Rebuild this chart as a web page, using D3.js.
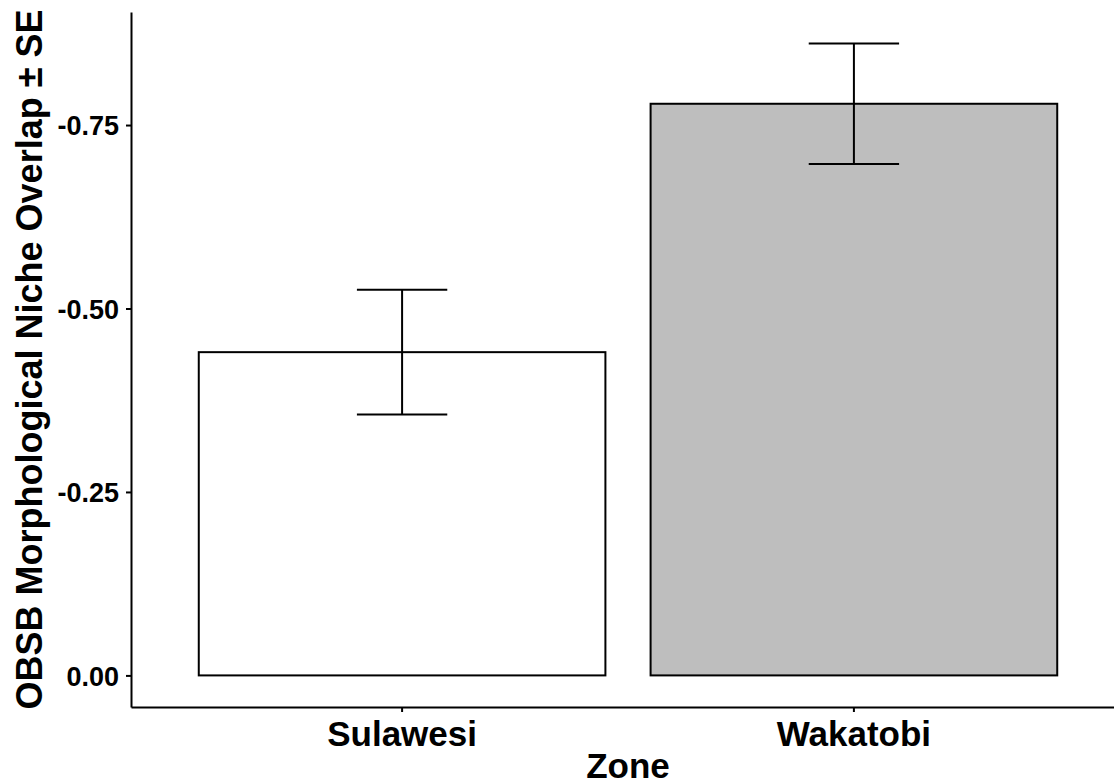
<!DOCTYPE html>
<html>
<head>
<meta charset="utf-8">
<script src="https://cdnjs.cloudflare.com/ajax/libs/d3/7.8.5/d3.min.js"></script>
<style>
  html, body { margin: 0; padding: 0; background: #fff; overflow: hidden; }
  svg { display: block; font-family: "Liberation Sans", Arial, sans-serif; }
  .axis path, .axis line { stroke: #000; stroke-width: 2px; }
  .axis text { fill: #000; font-weight: bold; }
</style>
</head>
<body>
<svg id="chart"></svg>
<script>
// datos
var zones = ['Sulawesi', 'Wakatobi'];
var means = [-0.4405, -0.779];
var errs = [0.085, 0.082];
var fills = ['#ffffff', '#bebebe'];
var yTicks = [0, -0.25, -0.5, -0.75];
var yTickLabels = ['0.00', '-0.25', '-0.50', '-0.75'];

var W = 1114, H = 783;
// panel como en ggplot (se sale un poco por la derecha)
const margin = { top: 12, right: -11, bottom: 76, left: 131 };
const width = W - margin.left - margin.right;
const height = H - margin.top - margin.bottom;

const svg = d3.select('#chart').attr('width', W).attr('height', H);
const g = svg.append('g').attr('transform', 'translate(' + margin.left + ',' + margin.top + ')');

const datos = zones.map(function(z, i) {
    return { zona: z, media: means[i], se: errs[i], fill: fills[i] };
});

const x = d3.scaleBand()
    .domain(zones)
    .range([0, width])
    .paddingInner(0.1)
    .paddingOuter(0.15);

// extension del 5% como ggplot
const lo = d3.min(datos, d => d.media - d.se);
const hi = 0;
const pad = (hi - lo) * 0.05;
const y = d3.scaleLinear()
    .domain([hi + pad, lo - pad])
    .range([height, 0]);

// barras
g.selectAll('.bar')
    .data(datos)
    .enter()
    .append('rect')
    .attr('class', 'bar')
    .attr('x', d => x(d.zona))
    .attr('width', x.bandwidth())
    .attr('y', d => y(d.media))
    .attr('height', d => y(0) - y(d.media))
    .attr('fill', d => d.fill)
    .attr('stroke', '#000')
    .attr('stroke-width', 2);

// barras de error
const ew = x.step() * 0.2 / 2;
const eb = g.selectAll('.err').data(datos).enter().append('g').attr('class', 'err')
    .attr('stroke', '#000').attr('stroke-width', 2);
eb.append('line')
    .attr('x1', d => x(d.zona) + x.bandwidth() / 2)
    .attr('x2', d => x(d.zona) + x.bandwidth() / 2)
    .attr('y1', d => y(d.media - d.se))
    .attr('y2', d => y(d.media + d.se));
eb.append('line')
    .attr('x1', d => x(d.zona) + x.bandwidth() / 2 - ew)
    .attr('x2', d => x(d.zona) + x.bandwidth() / 2 + ew)
    .attr('y1', d => y(d.media - d.se))
    .attr('y2', d => y(d.media - d.se));
eb.append('line')
    .attr('x1', d => x(d.zona) + x.bandwidth() / 2 - ew)
    .attr('x2', d => x(d.zona) + x.bandwidth() / 2 + ew)
    .attr('y1', d => y(d.media + d.se))
    .attr('y2', d => y(d.media + d.se));

// ejes
const axisY = d3.axisLeft(y)
    .tickValues(yTicks)
    .tickFormat((d, i) => yTickLabels[i])
    .tickSizeInner(5)
    .tickSizeOuter(0)
    .tickPadding(7);

g.append('g').attr('class', 'axis axis-y')
    .call(axisY)
    .selectAll('text')
    .style('font-size', '27px')
    .attr('dy', '0.36em');

const axisX = d3.axisBottom(x)
    .tickSizeInner(5)
    .tickSizeOuter(0)
    .tickPadding(9);

g.append('g').attr('class', 'axis axis-x')
    .attr('transform', 'translate(0,' + height + ')')
    .call(axisX)
    .selectAll('text')
    .style('font-size', '35px')
    .attr('dy', '0.71em');

// titulos
svg.append('text')
    .attr('x', margin.left + width / 2)
    .attr('y', 778)
    .attr('text-anchor', 'middle')
    .style('font-size', '35px')
    .style('font-weight', 'bold')
    .text('Zone');

svg.append('text')
    .attr('transform', 'translate(42,' + (margin.top + height / 2) + ') rotate(-90)')
    .attr('text-anchor', 'middle')
    .style('font-size', '36px')
    .style('font-weight', 'bold')
    .text('OBSB Morphological Niche Overlap \u00b1 SE');
</script>
</body>
</html>
